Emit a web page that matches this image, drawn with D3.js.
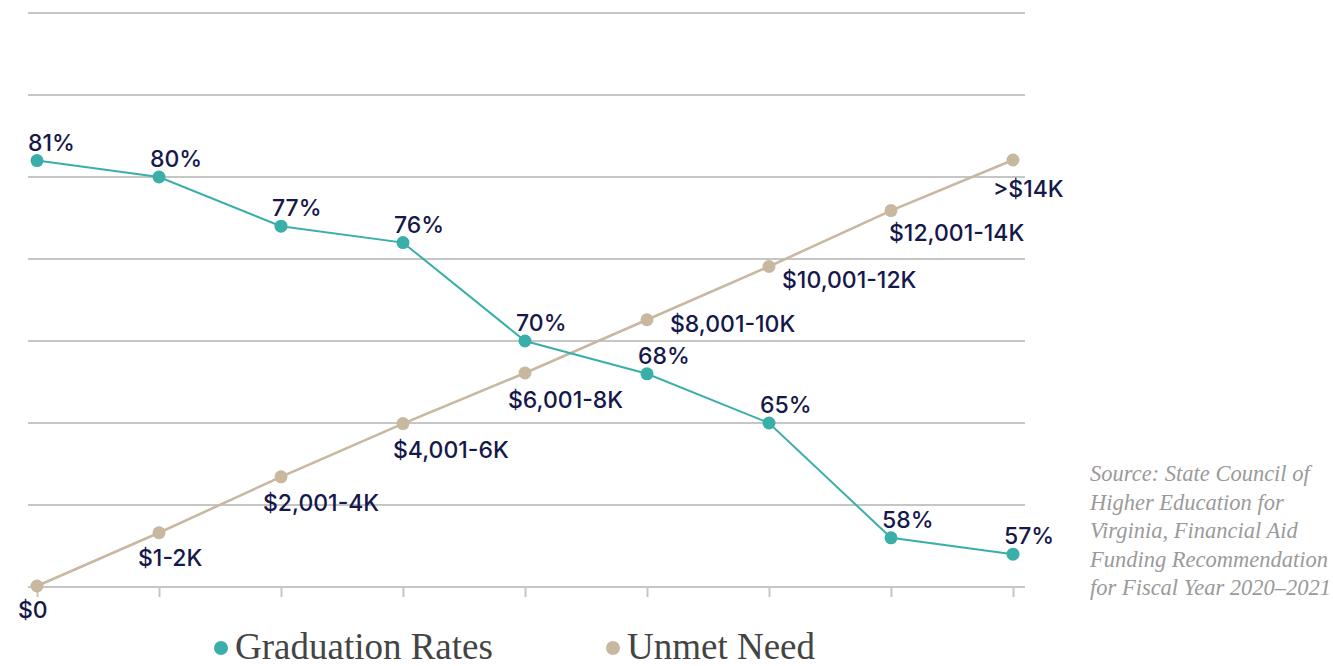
<!DOCTYPE html>
<html>
<head>
<meta charset="utf-8">
<script src="https://cdn.jsdelivr.net/npm/d3@7"></script>
<style>
  body { margin: 0; background: #fff; }
  .lbl { font-family: Inter, "Noto Sans", sans-serif; font-size: 23px; font-weight: 500; fill: #15184a; }
</style>
</head>
<body>
<div class="chart"></div>
<script>
//Data
var brackets = ["$0", "$1-2K", "$2,001-4K", "$4,001-6K", "$6,001-8K", "$8,001-10K", "$10,001-12K", "$12,001-14K", ">$14K"];
var gradRates = [81, 80, 77, 76, 70, 68, 65, 58, 57];
//Unmet need is drawn as a relative level (0 = lowest bracket)
var unmetNeed = [0, 1, 2.05, 3.05, 4, 5, 6, 7.05, 8];
var gridTicks = [55, 60, 65, 70, 75, 80, 85, 90];
var sourceLines = ["Source: State Council of", "Higher Education for", "Virginia, Financial Aid", "Funding Recommendation", "for Fiscal Year 2020\u20132021"];

//Label nudges (dx, dy from the point), placed by hand like the original
var gradOffsets = brackets.map(() => [-9, -10]);
var needOffsets = [[-19, 32], [-21, 33], [-18, 34], [-10, 34], [-17, 35], [23, 12], [13, 21], [-2, 30], [-20, 37]];

var teal = "#3aafa9";
var tan = "#c7b89f";
var grid = "#c6c6c6";

var width = 1333, height = 666;

var svg = d3.select(".chart")
    .append("svg")
    .attr("width", width)
    .attr("height", height);

var x = d3.scalePoint().domain(brackets).range([37, 1013]);
var y = d3.scaleLinear().domain([55, 90]).range([587, 13]);
//second scale for the unmet need line
var yNeed = d3.scaleLinear().domain([0, 8]).range([586, 160]);

//Gridlines
svg.append("g")
    .selectAll("line")
    .data(gridTicks)
    .join("line")
    .attr("x1", 28)
    .attr("x2", 1025)
    .attr("y1", d => y(d))
    .attr("y2", d => y(d))
    .style("stroke", grid)
    .style("stroke-width", 2);

//Bottom ticks
var axis = svg.append("g")
    .attr("transform", `translate(0,${y(55)})`)
    .call(d3.axisBottom(x).tickSize(10).tickSizeOuter(0).tickFormat(""));
axis.select(".domain").remove();
axis.selectAll(".tick line").style("stroke", grid).style("stroke-width", 2);

//Lines
var gradLine = d3.line().x((d, i) => x(brackets[i])).y(d => y(d));
var needLine = d3.line().x((d, i) => x(brackets[i])).y(d => yNeed(d));

svg.append("path")
    .datum(unmetNeed)
    .attr("d", needLine)
    .style("fill", "none")
    .style("stroke", tan)
    .style("stroke-width", 2.5);

svg.append("path")
    .datum(gradRates)
    .attr("d", gradLine)
    .style("fill", "none")
    .style("stroke", teal)
    .style("stroke-width", 2);

//Points
svg.append("g")
    .selectAll("circle")
    .data(unmetNeed)
    .join("circle")
    .attr("cx", (d, i) => x(brackets[i]))
    .attr("cy", d => yNeed(d))
    .attr("r", 6.5)
    .style("fill", tan);

svg.append("g")
    .selectAll("circle")
    .data(gradRates)
    .join("circle")
    .attr("cx", (d, i) => x(brackets[i]))
    .attr("cy", d => y(d))
    .attr("r", 6.5)
    .style("fill", teal);

//Labels
svg.append("g")
    .selectAll("text")
    .data(gradRates)
    .join("text")
    .attr("class", "lbl")
    .attr("x", (d, i) => x(brackets[i]) + gradOffsets[i][0])
    .attr("y", d => y(d))
    .attr("dy", (d, i) => gradOffsets[i][1])
    .text(d => d + "%");

svg.append("g")
    .selectAll("text")
    .data(unmetNeed)
    .join("text")
    .attr("class", "lbl")
    .attr("x", (d, i) => x(brackets[i]) + needOffsets[i][0])
    .attr("y", d => yNeed(d))
    .attr("dy", (d, i) => needOffsets[i][1])
    .text((d, i) => brackets[i]);

//Legend
var legend = [["Graduation Rates", teal, 221], ["Unmet Need", tan, 613]];
var lg = svg.append("g")
    .selectAll("g")
    .data(legend)
    .join("g")
    .attr("transform", d => `translate(${d[2]},648)`);
lg.append("circle").attr("r", 7).style("fill", d => d[1]);
lg.append("text")
    .attr("x", 14)
    .attr("y", 11)
    .style("font-family", "'Liberation Serif', serif")
    .style("font-size", "37px")
    .style("fill", "#444")
    .text(d => d[0]);

//Source note
svg.append("text")
    .attr("y", 481)
    .style("font-family", "'Liberation Serif', serif")
    .style("font-style", "italic")
    .style("font-size", "22.5px")
    .style("fill", "#9a9a9a")
    .selectAll("tspan")
    .data(sourceLines)
    .join("tspan")
    .attr("x", 1090)
    .attr("dy", (d, i) => i ? 28.5 : 0)
    .text(d => d);
</script>
</body>
</html>
